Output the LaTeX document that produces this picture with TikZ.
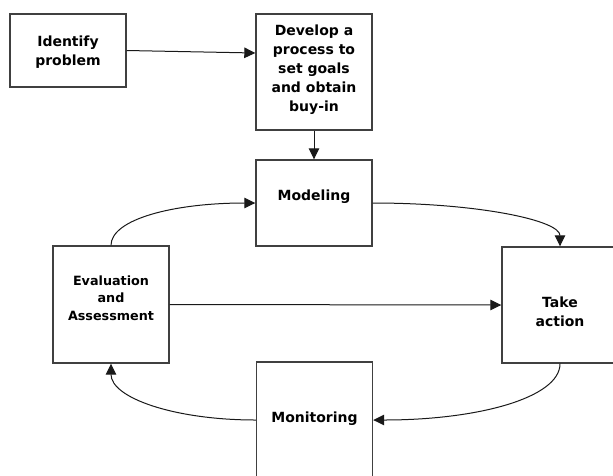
\documentclass[tikz,border=0pt]{standalone}
\usepackage{fontspec}
\setmainfont{DejaVu Sans}
\usetikzlibrary{arrows.meta}
\begin{document}
\begin{tikzpicture}[x=1pt,y=-1pt,
  box/.style={draw=black!75, line width=1.4pt, minimum width=116pt, inner sep=0pt, fill=white},
  txt/.style={font=\fontsize{14}{19}\selectfont\bfseries, align=center, inner sep=0pt},
  stxt/.style={font=\fontsize{12.75}{17.5}\selectfont\bfseries, align=center, inner sep=0pt},
  arr/.style={draw=black!90, line width=1pt, -{Triangle[length=11pt,width=10.5pt]}}]
\useasboundingbox (0,0) rectangle (613,475);
\node[box, minimum height=73pt,
  label={[txt,yshift=-2pt]center:Identify\\problem}] (idp) at (68,50.5) {};
\node[box, minimum height=116pt,
  label={[txt,yshift=2pt]center:Develop a\\process to\\set goals\\and obtain\\buy-in}] (dev) at (314,72) {};
\node[box, minimum height=86pt,
  label={[txt,yshift=6pt]center:Modeling}] (mod) at (314,203) {};
\node[box, minimum height=117pt,
  label={[stxt,yshift=6.5pt]center:Evaluation\\and\\Assessment}] (eva) at (111,304.5) {};
\node[box, minimum height=116pt,
  label={[txt,yshift=-7pt]center:Take\\action}] (take) at (560,305) {};
\node[box, minimum height=116pt,
  label={[txt,yshift=1pt]center:Monitoring}] (mon) at (314.5,420) {};
\draw[arr] (idp.east) -- ([yshift=19pt]dev.west);
\draw[arr] (dev.south) -- (mod.north);
\draw[arr] (eva.north) .. controls +(0,-26) and +(-82,0) .. (mod.west);
\draw[arr] (mod.east) .. controls +(105,0) and +(0,-26) .. (take.north);
\draw[arr] (eva.east) -- (take.west);
\draw[arr] (take.south) .. controls +(0,34) and +(105,0) .. (mon.east);
\draw[arr] (mon.west) .. controls +(-82,0) and +(0,34) .. (eva.south);
\end{tikzpicture}
\end{document}
